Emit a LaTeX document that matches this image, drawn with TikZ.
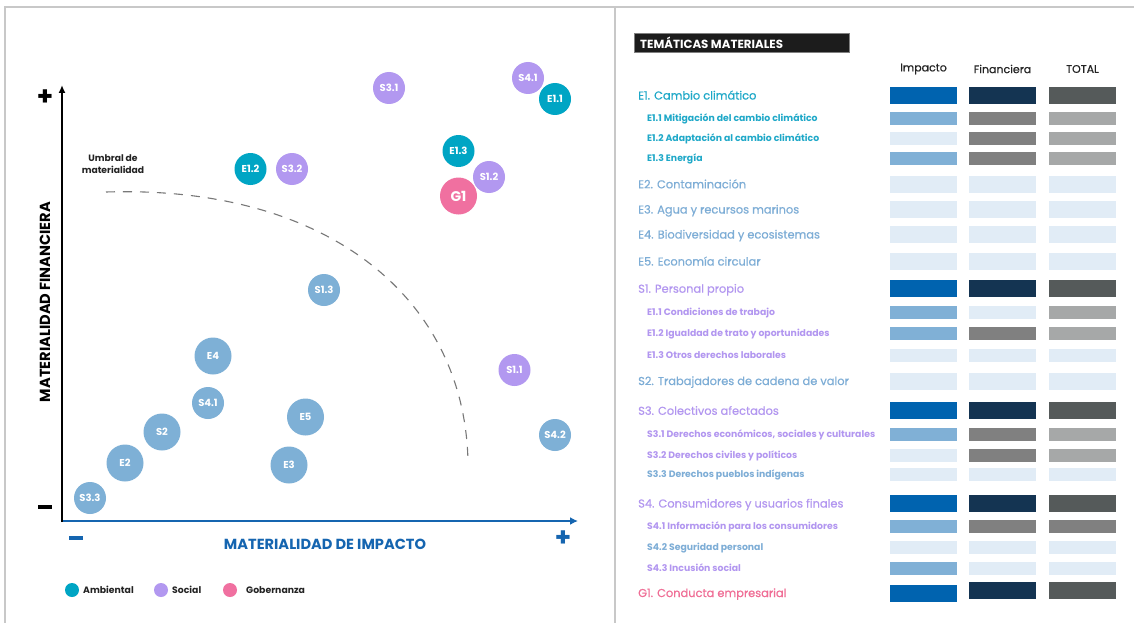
\documentclass[tikz,border=0pt]{standalone}
\usepackage{fontspec}
\setmainfont{Poppins}
\newfontfamily\pmed{Poppins}[FakeBold=0.5]
\usetikzlibrary{arrows.meta}
\definecolor{cteal}{RGB}{0,165,196}
\definecolor{cpurple}{RGB}{178,152,240}
\definecolor{cpink}{RGB}{240,112,160}
\definecolor{cblue}{RGB}{126,176,214}
\definecolor{axblue}{RGB}{21,101,176}
\definecolor{frame}{RGB}{200,200,200}
\definecolor{thr}{RGB}{120,120,120}
\definecolor{bdkblue}{RGB}{0,99,175}
\definecolor{bnavy}{RGB}{20,52,82}
\definecolor{bdkgray}{RGB}{85,90,90}
\definecolor{bltblue}{RGB}{128,176,214}
\definecolor{bpale}{RGB}{225,236,246}
\definecolor{bmidgray}{RGB}{128,128,128}
\definecolor{bltgray}{RGB}{166,168,168}
\definecolor{tteal}{RGB}{30,168,200}
\definecolor{tblue}{RGB}{125,173,214}
\definecolor{tpurple}{RGB}{178,150,240}
\definecolor{tpink}{RGB}{240,110,150}
\definecolor{hdrbox}{RGB}{28,28,28}
\definecolor{txtdark}{RGB}{35,35,35}
\newcommand{\mainrow}[7]{%
  \node[barm,fill=#3] (#1-i) at (923.5,#2) {};
  \node[barm,fill=#4] (#1-f) at (1002.5,#2) {};
  \node[barm,fill=#5] (#1-t) at (1082.5,#2) {};
  \node[mainlbl,text=#6] (#1-l) at (638,#2) {#7};}
\newcommand{\subrow}[7]{%
  \node[bars,fill=#3] (#1-i) at (923.5,#2) {};
  \node[bars,fill=#4] (#1-f) at (1002.5,#2) {};
  \node[bars,fill=#5] (#1-t) at (1082.5,#2) {};
  \node[sublbl,text=#6] (#1-l) at (647,#2) {#7};}
\begin{document}
\begin{tikzpicture}[x=1pt,y=-1pt,
  bub/.style={circle,inner sep=0pt,minimum size=32pt,text=white,font=\bfseries\fontsize{10}{10}\selectfont},
  big/.style={minimum size=37pt},
  legdot/.style={circle,inner sep=0pt,minimum size=14pt},
  legtxt/.style={anchor=west,inner sep=0pt,text=txtdark,font=\bfseries\fontsize{9.3}{10}\selectfont},
  barm/.style={rectangle,inner sep=0pt,outer sep=0pt,minimum width=67pt,minimum height=17pt},
  bars/.style={rectangle,inner sep=0pt,outer sep=0pt,minimum width=67pt,minimum height=13pt},
  mainlbl/.style={anchor=west,inner sep=0pt,text height=8pt,text depth=0pt,font=\pmed\fontsize{11.4}{13}\selectfont},
  sublbl/.style={anchor=west,inner sep=0pt,text height=6.5pt,text depth=0pt,font=\bfseries\fontsize{9.3}{10}\selectfont},
  colhdr/.style={inner sep=0pt,text=txtdark,font=\pmed\fontsize{11}{12}\selectfont},
  thresh/.style={draw=thr,line width=1.1pt,dash pattern=on 9pt off 8pt}
]
\useasboundingbox[fill=white] (0,0) rectangle (1134,623);
% frame
\draw[frame,line width=1.2pt] (5,624) -- (5,7) -- (1135,7);
\draw[frame,line width=1.2pt] (615,7) -- (615,624);
% axes
\coordinate (O) at (62,521);
\coordinate (Ytop) at (62,85);
\coordinate (Xend) at (578,521);
\draw[axblue,line width=2.6pt,-{Latex[length=8pt,width=8pt]}] (60.8,521) -- (Xend);
\draw[black,line width=2.2pt,-{Latex[length=8pt,width=7pt]}] (62,522) -- (Ytop);
\node[font=\bfseries\fontsize{26}{26}\selectfont,inner sep=0pt] (yplus) at (45,98) {+};
\node[inner sep=0pt] (yminus) at (45,507) {\rule{14pt}{3.8pt}};
\node[inner sep=0pt,text=axblue] (xminus) at (76,538) {\rule{14pt}{3.8pt}};
\node[font=\bfseries\fontsize{26}{26}\selectfont,inner sep=0pt,text=axblue] (xplus) at (563,539) {+};
\node[rotate=90,font=\bfseries\fontsize{14.6}{16}\selectfont,inner sep=0pt] (ylab) at (45,302) {MATERIALIDAD FINANCIERA};
\node[font=\bfseries\fontsize{14.6}{16}\selectfont,inner sep=0pt,text=axblue] (xlab) at (325,544) {MATERIALIDAD DE IMPACTO};
% threshold
\node[align=center,font=\bfseries\fontsize{9.2}{11.5}\selectfont,text=txtdark,inner sep=0pt] (umbral) at (113,164) {Umbral de\\materialidad};
\coordinate (t0) at (106,192);
\coordinate (t1) at (468,462);
\draw[thresh] (t0) .. controls (330,185) and (465,300) .. (t1);
% bubbles
\node[bub,fill=cpurple] (S31) at (389,88) {S3.1};
\node[bub,fill=cpurple] (S41a) at (528,78) {S4.1};
\node[bub,fill=cteal] (E11) at (555,99) {E1.1};
\node[bub,fill=cteal] (E13) at (458.5,151) {E1.3};
\node[bub,fill=cpurple] (S12) at (489,177) {S1.2};
\node[bub,big,fill=cpink,font=\bfseries\fontsize{14}{14}\selectfont] (G1) at (458.5,196) {G1};
\node[bub,fill=cteal] (E12) at (250.5,169) {E1.2};
\node[bub,fill=cpurple] (S32) at (292,169) {S3.2};
\node[bub,fill=cblue] (S13) at (324,290) {S1.3};
\node[bub,big,fill=cblue] (E4) at (213,356) {E4};
\node[bub,fill=cblue] (S41b) at (208,403) {S4.1};
\node[bub,big,fill=cblue] (S2) at (162,432) {S2};
\node[bub,big,fill=cblue] (E2) at (125,463) {E2};
\node[bub,fill=cblue] (S33) at (90,498) {S3.3};
\node[bub,big,fill=cblue] (E5) at (305.5,417) {E5};
\node[bub,big,fill=cblue] (E3) at (289,465) {E3};
\node[bub,fill=cpurple] (S11) at (514.5,370) {S1.1};
\node[bub,fill=cblue] (S42) at (555,435) {S4.2};
% legend
\node[legdot,fill=cteal] (la) at (72,590) {};
\node[legtxt] (lat) at (83,590) {Ambiental};
\node[legdot,fill=cpurple] (ls) at (161,590) {};
\node[legtxt] (lst) at (172,590) {Social};
\node[legdot,fill=cpink] (lg) at (230,590) {};
\node[legtxt] (lgt) at (246,590) {Gobernanza};
% right panel header
\node[draw=gray,line width=0.8pt,fill=hdrbox,minimum width=215pt,minimum height=19pt,inner sep=0pt,anchor=north west] (hdr) at (634,33) {};
\node[anchor=west,inner sep=0pt,text=white,font=\bfseries\fontsize{11.8}{13}\selectfont] (hdrt) at (640,42.8) {TEMÁTICAS MATERIALES};
\node[colhdr] (ch1) at (923.5,69) {Impacto};
\node[colhdr] (ch2) at (1002.5,69) {Financiera};
\node[colhdr] (ch3) at (1082.5,69) {TOTAL};
% rows
\mainrow{r1}{95.5}{bdkblue}{bnavy}{bdkgray}{tteal}{E1. Cambio climático}
\subrow{r2}{118.5}{bltblue}{bmidgray}{bltgray}{tteal}{E1.1 Mitigación del cambio climático}
\subrow{r3}{138.6}{bpale}{bmidgray}{bltgray}{tteal}{E1.2 Adaptación al cambio climático}
\subrow{r4}{158.6}{bltblue}{bmidgray}{bltgray}{tteal}{E1.3 Energía}
\mainrow{r5}{184.3}{bpale}{bpale}{bpale}{tblue}{E2. Contaminación}
\mainrow{r6}{209.5}{bpale}{bpale}{bpale}{tblue}{E3. Agua y recursos marinos}
\mainrow{r7}{234.5}{bpale}{bpale}{bpale}{tblue}{E4. Biodiversidad y ecosistemas}
\mainrow{r8}{261.5}{bpale}{bpale}{bpale}{tblue}{E5. Economía circular}
\mainrow{r9}{288.7}{bdkblue}{bnavy}{bdkgray}{tpurple}{S1. Personal propio}
\subrow{r10}{312.5}{bltblue}{bpale}{bltgray}{tpurple}{E1.1 Condiciones de trabajo}
\subrow{r11}{333}{bltblue}{bmidgray}{bltgray}{tpurple}{E1.2 Igualdad de trato y oportunidades}
\subrow{r12}{355}{bpale}{bpale}{bpale}{tpurple}{E1.3 Otros derechos laborales}
\mainrow{r13}{381}{bpale}{bpale}{bpale}{tblue}{S2. Trabajadores de cadena de valor}
\mainrow{r14}{410.8}{bdkblue}{bnavy}{bdkgray}{tpurple}{S3. Colectivos afectados}
\subrow{r15}{434}{bltblue}{bmidgray}{bltgray}{tpurple}{S3.1 Derechos económicos, sociales y culturales}
\subrow{r16}{455}{bpale}{bmidgray}{bltgray}{tpurple}{S3.2 Derechos civiles y políticos}
\subrow{r17}{474.5}{bpale}{bpale}{bpale}{tblue}{S3.3 Derechos pueblos indígenas}
\mainrow{r18}{503.5}{bdkblue}{bnavy}{bdkgray}{tpurple}{S4. Consumidores y usuarios finales}
\subrow{r19}{526.7}{bltblue}{bmidgray}{bmidgray}{tpurple}{S4.1 Información para los consumidores}
\subrow{r20}{547.5}{bpale}{bpale}{bpale}{tblue}{S4.2 Seguridad personal}
\subrow{r21}{568}{bltblue}{bpale}{bpale}{tpurple}{S4.3 Incusión social}
\node[barm,fill=bdkblue] (r22-i) at (923.5,593.5) {};
\node[barm,fill=bnavy] (r22-f) at (1002.5,590.7) {};
\node[barm,fill=bdkgray] (r22-t) at (1082.5,590.7) {};
\node[mainlbl,text=tpink] (r22-l) at (638,593) {G1. Conducta empresarial};
\end{tikzpicture}
\end{document}
